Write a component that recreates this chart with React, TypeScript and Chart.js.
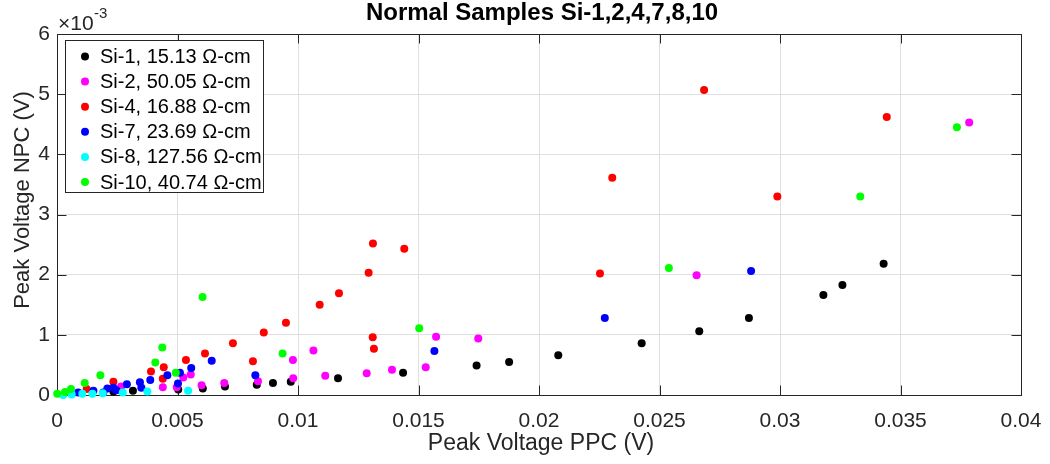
import React, { useEffect, useRef } from 'react';
import { Chart, registerables } from 'chart.js';

Chart.register(...registerables);

const FONT = '"Liberation Sans", Arial, Helvetica, sans-serif';

// ---- Data (x: Peak Voltage PPC in V, y: Peak Voltage NPC in units of 1e-3 V) ----
const seriesLabels = [
  'Si-1, 15.13 Ω-cm',
  'Si-2, 50.05 Ω-cm',
  'Si-4, 16.88 Ω-cm',
  'Si-7, 23.69 Ω-cm',
  'Si-8, 127.56 Ω-cm',
  'Si-10, 40.74 Ω-cm',
];
const seriesColors = ['#000000', '#ff00ff', '#ff0000', '#0000ff', '#00ffff', '#00ff00'];

const si1X = [0.00234, 0.00315, 0.00503, 0.00605, 0.00697, 0.00829, 0.00896, 0.0097, 0.01166, 0.01436, 0.01741, 0.01876, 0.0208, 0.02426, 0.02665, 0.02871, 0.0318, 0.03259, 0.0343];
const si1Y = [0.06, 0.07, 0.09, 0.11, 0.14, 0.17, 0.2, 0.22, 0.28, 0.37, 0.49, 0.55, 0.66, 0.86, 1.06, 1.28, 1.66, 1.83, 2.18];

const si2X = [0.00266, 0.00439, 0.00497, 0.00524, 0.00555, 0.006, 0.00694, 0.00834, 0.0098, 0.00979, 0.01064, 0.01113, 0.01285, 0.0139, 0.0153, 0.01573, 0.01748, 0.02654, 0.03785];
const si2Y = [0.14, 0.13, 0.13, 0.29, 0.34, 0.16, 0.2, 0.23, 0.28, 0.58, 0.74, 0.32, 0.36, 0.42, 0.46, 0.97, 0.94, 1.99, 4.53];

const si4X = [0.00123, 0.00234, 0.0039, 0.00439, 0.00443, 0.00535, 0.00614, 0.0073, 0.00813, 0.00858, 0.0095, 0.0109, 0.0117, 0.01293, 0.01311, 0.0131, 0.01315, 0.01441, 0.02253, 0.02304, 0.02685, 0.02989, 0.03443];
const si4Y = [0.1, 0.22, 0.39, 0.27, 0.46, 0.58, 0.69, 0.86, 0.56, 1.04, 1.2, 1.5, 1.69, 2.03, 2.52, 0.96, 0.77, 2.43, 2.02, 3.61, 5.07, 3.3, 4.62];

const si7X = [0.00088, 0.00151, 0.00192, 0.00209, 0.00234, 0.00246, 0.0029, 0.00344, 0.0035, 0.00387, 0.00458, 0.00502, 0.0051, 0.00557, 0.00642, 0.00823, 0.01566, 0.02273, 0.0288];
const si7Y = [0.04, 0.07, 0.04, 0.11, 0.12, 0.08, 0.18, 0.21, 0.12, 0.25, 0.33, 0.19, 0.37, 0.45, 0.57, 0.33, 0.73, 1.28, 2.06];

const si8X = [0.00026, 0.00061, 0.00105, 0.00147, 0.0019, 0.00273, 0.00375, 0.00544];
const si8Y = [0.0, 0.01, 0.02, 0.02, 0.03, 0.04, 0.06, 0.07];

const si10X = [0.00001, 0.00033, 0.00058, 0.00115, 0.0018, 0.00408, 0.00437, 0.00493, 0.00604, 0.00936, 0.01503, 0.02539, 0.03333, 0.03734];
const si10Y = [0.02, 0.05, 0.1, 0.2, 0.33, 0.54, 0.79, 0.37, 1.63, 0.69, 1.11, 2.11, 3.3, 4.45];

const seriesX = [si1X, si2X, si4X, si7X, si8X, si10X];
const seriesY = [si1Y, si2Y, si4Y, si7Y, si8Y, si10Y];

const xTickValues = [0, 0.005, 0.01, 0.015, 0.02, 0.025, 0.03, 0.035, 0.04];
const xTickLabels = ['0', '0.005', '0.01', '0.015', '0.02', '0.025', '0.03', '0.035', '0.04'];
const yTickValues = [0, 1, 2, 3, 4, 5, 6];
const yTickLabels = ['0', '1', '2', '3', '4', '5', '6'];

const titleText = 'Normal Samples Si-1,2,4,7,8,10';
const xTitle = 'Peak Voltage PPC (V)';
const yTitle = 'Peak Voltage NPC (V)';

const TEXT = '#262626';

const matlabPlugin = {
  id: 'matlabDecor',
  beforeDatasetsDraw(chart: any) {
    const { ctx, chartArea } = chart;
    const { left, right, top, bottom } = chartArea;
    const xs = chart.scales.x;
    const ys = chart.scales.y;
    ctx.save();
    ctx.strokeStyle = '#262626';
    ctx.lineWidth = 1;
    ctx.strokeRect(Math.round(left) + 0.5, Math.round(top) + 0.5, Math.round(right - left), Math.round(bottom - top));
    const tl = 9.5;
    ctx.beginPath();
    xTickValues.forEach((v) => {
      const px = Math.round(xs.getPixelForValue(v)) + 0.5;
      ctx.moveTo(px, bottom);
      ctx.lineTo(px, bottom - tl);
      ctx.moveTo(px, top);
      ctx.lineTo(px, top + tl);
    });
    yTickValues.forEach((v) => {
      const py = Math.round(ys.getPixelForValue(v)) + 0.5;
      ctx.moveTo(left, py);
      ctx.lineTo(left + tl, py);
      ctx.moveTo(right, py);
      ctx.lineTo(right - tl, py);
    });
    ctx.stroke();
    ctx.restore();
  },
  afterDraw(chart: any) {
    const { ctx, chartArea } = chart;
    const { left } = chartArea;
    ctx.save();
    // Title
    ctx.fillStyle = '#000000';
    ctx.font = `bold 24px ${FONT}`;
    ctx.textAlign = 'center';
    ctx.textBaseline = 'alphabetic';
    ctx.fillText(titleText, 542, 20);
    // X title
    ctx.fillStyle = TEXT;
    ctx.font = `23px ${FONT}`;
    ctx.fillText(xTitle, 541, 450);
    // Y title
    ctx.save();
    ctx.translate(28.5, 200);
    ctx.rotate(-Math.PI / 2);
    ctx.font = `22px ${FONT}`;
    ctx.textAlign = 'center';
    ctx.fillText(yTitle, 0, 0);
    ctx.restore();
    // Exponent
    ctx.textAlign = 'left';
    ctx.font = `21px ${FONT}`;
    ctx.fillText('×10', left + 1, 30);
    ctx.font = `15px ${FONT}`;
    ctx.fillText('-3', left + 37, 18);
    // Legend
    const bx = 65.5, by = 40.5, bw = 198, bh = 152;
    ctx.fillStyle = '#ffffff';
    ctx.fillRect(bx, by, bw, bh);
    ctx.strokeStyle = '#262626';
    ctx.lineWidth = 1;
    ctx.strokeRect(bx, by, bw, bh);
    ctx.font = `20px ${FONT}`;
    ctx.textBaseline = 'middle';
    seriesLabels.forEach((lab, i) => {
      const cy = 56.5 + i * 25.1;
      ctx.fillStyle = seriesColors[i];
      ctx.beginPath();
      ctx.arc(85, cy, 4, 0, Math.PI * 2);
      ctx.fill();
      ctx.fillStyle = '#000000';
      ctx.fillText(lab, 100, cy + 1);
    });
    ctx.restore();
  },
};

export default function App() {
  const ref = useRef<HTMLCanvasElement>(null);
  useEffect(() => {
    const datasets = seriesLabels.map((label, i) => ({
      label,
      data: seriesX[i].map((x, j) => ({ x, y: seriesY[i][j] })),
      backgroundColor: seriesColors[i],
      borderColor: seriesColors[i],
      borderWidth: 0,
      pointRadius: 4,
      pointHoverRadius: 4,
      showLine: false,
      clip: false as any,
      order: seriesLabels.length - i,
    }));
    const chart = new Chart(ref.current as HTMLCanvasElement, {
      type: 'scatter',
      data: { datasets },
      options: {
        animation: false,
        responsive: false,
        events: [],
        layout: { padding: { top: 34, right: 29, left: 0, bottom: 0 } },
        plugins: {
          legend: { display: false },
          tooltip: { enabled: false },
          title: { display: false },
        },
        scales: {
          x: {
            type: 'linear',
            min: 0,
            max: 0.04,
            afterFit: (s: any) => {
              s.height = 69;
              s.paddingLeft = 0;
              s.paddingRight = 0;
            },
            afterBuildTicks: (s: any) => { s.ticks = xTickValues.map((v) => ({ value: v })); },
            ticks: {
              autoSkip: false,
              maxRotation: 0,
              padding: 14,
              color: TEXT,
              font: { family: FONT, size: 21 },
              callback: (_v: any, idx: number) => xTickLabels[idx],
            },
            grid: { color: '#dfdfdf', drawTicks: false },
            border: { display: false },
          },
          y: {
            type: 'linear',
            min: 0,
            max: 6,
            afterFit: (s: any) => {
              s.width = 57;
              s.paddingTop = 0;
              s.paddingBottom = 0;
            },
            afterBuildTicks: (s: any) => { s.ticks = yTickValues.map((v) => ({ value: v })); },
            ticks: {
              autoSkip: false,
              padding: 7,
              color: TEXT,
              font: { family: FONT, size: 21 },
              callback: (_v: any, idx: number) => yTickLabels[idx],
            },
            grid: { color: '#dfdfdf', drawTicks: false },
            border: { display: false },
          },
        },
      },
      plugins: [matlabPlugin],
    });
    return () => chart.destroy();
  }, []);
  return (
    <canvas
      ref={ref}
      width={1050}
      height={464}
      style={{ position: 'absolute', left: 0, top: 0, width: 1050, height: 464 }}
    />
  );
}
